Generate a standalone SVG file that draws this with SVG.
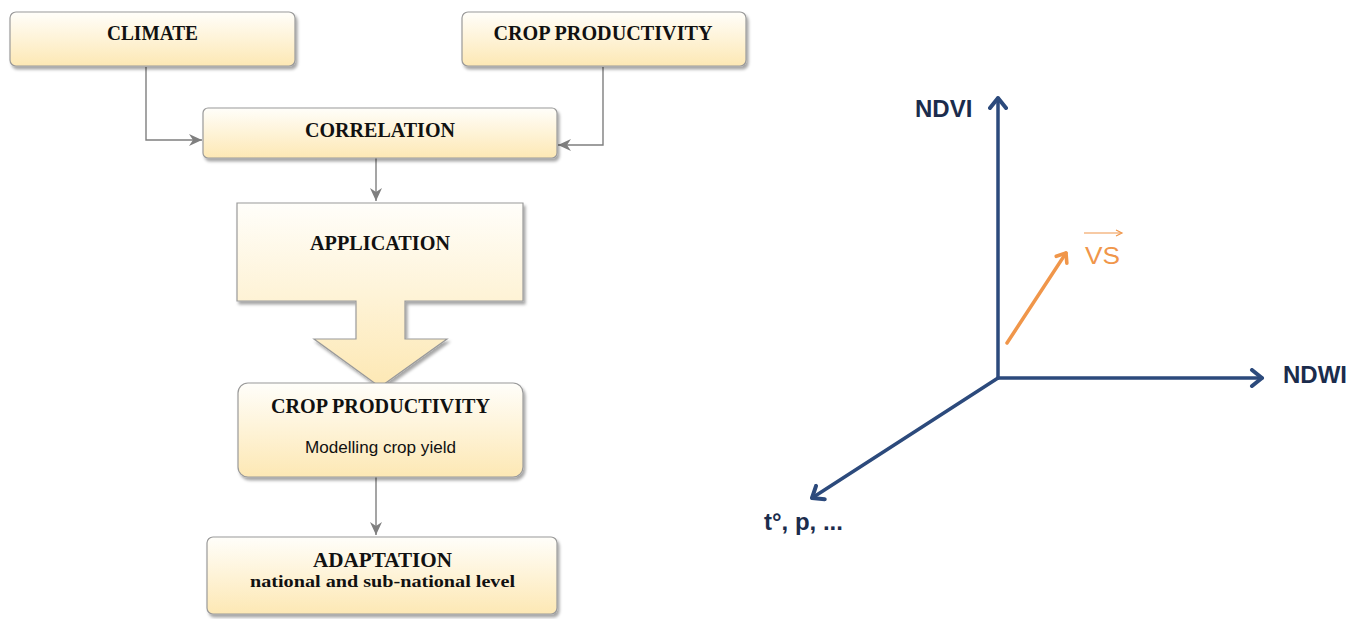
<svg xmlns="http://www.w3.org/2000/svg" width="1364" height="619" viewBox="0 0 1364 619">
  <defs>
    <linearGradient id="boxFill" x1="0" y1="0" x2="0" y2="1">
      <stop offset="0" stop-color="#fffefa"/>
      <stop offset="1" stop-color="#fde8b4"/>
    </linearGradient>
    <filter id="shadow" x="-5%" y="-10%" width="112%" height="130%">
      <feDropShadow dx="2" dy="3" stdDeviation="1.6" flood-color="#000" flood-opacity="0.35"/>
    </filter>
    <marker id="grayHead" viewBox="0 0 14 14" refX="13" refY="7" markerWidth="14" markerHeight="14" markerUnits="userSpaceOnUse" orient="auto">
      <path d="M0,1 L13,7 L0,13 L4,7 Z" fill="#7f7f7f"/>
    </marker>
    <marker id="axisHead" viewBox="0 0 20 20" refX="16" refY="10" markerWidth="20" markerHeight="20" markerUnits="userSpaceOnUse" orient="auto">
      <path d="M6,2 L16,10 L6,18" fill="none" stroke="#2c4a7c" stroke-width="4" stroke-linecap="round" stroke-linejoin="round"/>
    </marker>
    <marker id="vsHead" viewBox="0 0 20 20" refX="15" refY="10" markerWidth="18" markerHeight="18" markerUnits="userSpaceOnUse" orient="auto">
      <path d="M6,3 L15,10 L6,17" fill="none" stroke="#f0964a" stroke-width="4" stroke-linecap="round" stroke-linejoin="round"/>
    </marker>
  </defs>
  <style>
    .box { fill: url(#boxFill); stroke: #9a9a9a; stroke-width: 1.2; filter: url(#shadow); }
    .title { font-family: "Liberation Serif", "DejaVu Serif", serif; font-weight: bold; font-size: 20px; fill: #111; text-anchor: middle; }
    .sub { font-family: "Liberation Serif", "DejaVu Serif", serif; font-weight: bold; font-size: 16px; fill: #111; text-anchor: middle; }
    .note { font-family: "Liberation Sans", Arial, sans-serif; font-size: 16px; fill: #111; text-anchor: middle; }
    .conn { fill: none; stroke: #7f7f7f; stroke-width: 1.4; marker-end: url(#grayHead); }
    .axis { fill: none; stroke: #2c4a7c; stroke-width: 3.5; stroke-linecap: round; marker-end: url(#axisHead); }
    .axisLabel { font-family: "Liberation Sans", Arial, sans-serif; font-weight: bold; font-size: 24px; fill: #1b2c4c; }
    .vs { font-family: "Liberation Sans", Arial, sans-serif; font-size: 24px; fill: #f0964a; }
  </style>

  <rect width="1364" height="619" fill="#ffffff"/>

  <!-- flow chart connectors -->
  <g id="connectors">
    <polyline class="conn" points="146,67 146,140 202,140"/>
    <polyline class="conn" points="603,67 603,145 558,145"/>
    <line class="conn" x1="376" y1="158" x2="376" y2="201"/>
    <line class="conn" x1="376" y1="477" x2="376" y2="535"/>
  </g>

  <g id="climate">
    <rect class="box" x="10" y="12" width="285" height="54" rx="6"/>
    <text class="title" x="152.5" y="40" textLength="91" lengthAdjust="spacingAndGlyphs">CLIMATE</text>
  </g>

  <g id="crop-productivity-top">
    <rect class="box" x="462" y="12" width="284" height="54" rx="6"/>
    <text class="title" x="603" y="40" textLength="219" lengthAdjust="spacingAndGlyphs">CROP PRODUCTIVITY</text>
  </g>

  <g id="correlation">
    <rect class="box" x="203" y="108" width="354" height="50" rx="5"/>
    <text class="title" x="380" y="137" textLength="150" lengthAdjust="spacingAndGlyphs">CORRELATION</text>
  </g>

  <g id="application">
    <path class="box" d="M237,203 H523 V301 H405 V339 H447 L380,387 L314,339 H356 V301 H237 Z"/>
    <text class="title" x="380" y="250" textLength="140" lengthAdjust="spacingAndGlyphs">APPLICATION</text>
  </g>

  <g id="crop-productivity-model">
    <rect class="box" x="238" y="383" width="285" height="94" rx="10"/>
    <text class="title" x="380.5" y="413" textLength="219" lengthAdjust="spacingAndGlyphs">CROP PRODUCTIVITY</text>
    <text class="note" x="380.5" y="453" textLength="151" lengthAdjust="spacingAndGlyphs">Modelling crop yield</text>
  </g>

  <g id="adaptation">
    <rect class="box" x="207" y="537" width="350" height="77" rx="6"/>
    <text class="title" x="382.5" y="567" textLength="139" lengthAdjust="spacingAndGlyphs">ADAPTATION</text>
    <text class="sub" x="382.5" y="587" textLength="265" lengthAdjust="spacingAndGlyphs">national and sub-national level</text>
  </g>

  <!-- indicator space axes -->
  <g id="axes">
    <line class="axis" x1="998" y1="378" x2="998" y2="98"/>
    <line class="axis" x1="998" y1="378" x2="1262" y2="378"/>
    <line class="axis" x1="998" y1="378" x2="812" y2="498"/>
    <text class="axisLabel" x="915" y="117">NDVI</text>
    <text class="axisLabel" x="1283" y="383" font-size="25">NDWI</text>
    <text class="axisLabel" x="764" y="530">t°, p, ...</text>
  </g>

  <g id="vs-vector">
    <line x1="1007" y1="343" x2="1066" y2="253" fill="none" stroke="#f0964a" stroke-width="3.5" stroke-linecap="round" marker-end="url(#vsHead)"/>
    <text class="vs" x="1085" y="264" textLength="35" lengthAdjust="spacingAndGlyphs">VS</text>
    <line x1="1084" y1="233" x2="1121" y2="233" stroke="#f0964a" stroke-width="1.2"/>
    <path d="M1116,230 L1122,233 L1116,236" fill="none" stroke="#f0964a" stroke-width="1.2"/>
  </g>
</svg>
